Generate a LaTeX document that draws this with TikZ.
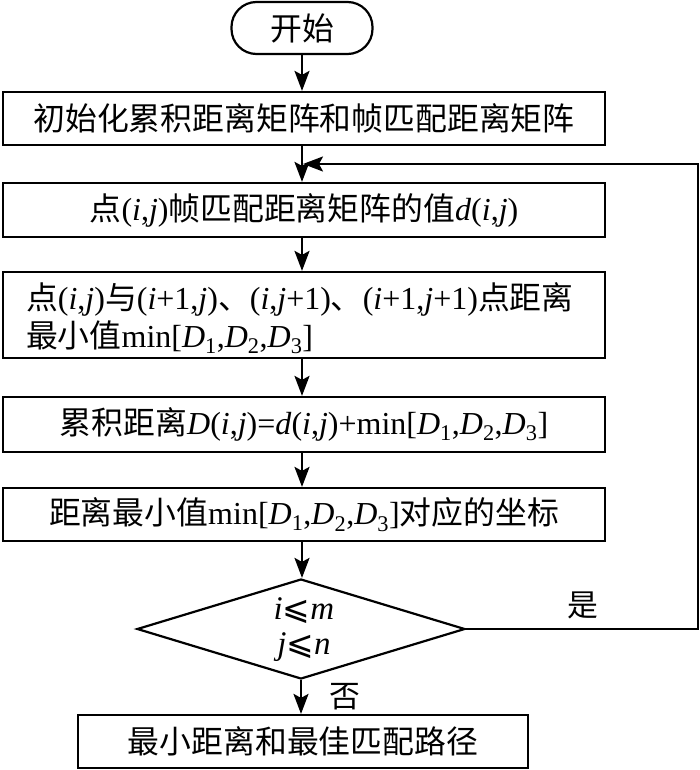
\documentclass[tikz,border=0pt]{standalone}
\usepackage{fontspec}
\setmainfont{Liberation Serif}
\newfontfamily\zhfont{Noto Sans CJK SC}[Scale=0.995]
\newfontfamily\symfont{DejaVu Sans}
\newcommand\zh[1]{{\zhfont #1}}
\newcommand\iv[1]{\textit{#1}}
\newcommand\leqs{{\symfont ⩽}}
\usetikzlibrary{arrows.meta,shapes.geometric}
\begin{document}
\begin{tikzpicture}[x=1pt,y=-1pt,
  line width=2.2pt,
  every node/.style={font=\fontsize{32}{38}\selectfont, inner sep=0pt},
  procbox/.style={draw, rectangle, minimum width=602pt, minimum height=53pt},
  arr/.style={-{Stealth[length=20pt,width=15pt,inset=4pt]}},
  lbl/.style={font=\fontsize{31}{34}\selectfont}]
\useasboundingbox (0,0) rectangle (700,770);
\node[draw, rectangle, rounded corners=25pt, minimum width=141pt, minimum height=52pt] (start) at (302,28) {\zh{开始}};
\node[procbox] (b1) at (304,118.5) {\zh{初始化累积距离矩阵和帧匹配距离矩阵}};
\node[procbox, minimum height=54pt] (b2) at (304,210) {\zh{点}(\iv{i},\iv{j})\zh{帧匹配距离矩阵的值}\iv{d}(\iv{i},\iv{j})};
\node[procbox, minimum height=86pt] (b3) at (304,315) {};
\node[text width=600pt, align=left, anchor=west] (t3) at (25,318) {\zh{点}(\iv{i},\iv{j})\zh{与}(\iv{i}+1,\iv{j})\zh{、}(\iv{i},\iv{j}+1)\zh{、}(\iv{i}+1,\iv{j}+1)\zh{点距离}\\
\zh{最小值}min[\iv{D}\textsubscript{1},\iv{D}\textsubscript{2},\iv{D}\textsubscript{3}]};
\node[procbox, minimum height=55pt] (b4) at (304,424.5) {\zh{累积距离}\iv{D}(\iv{i},\iv{j})=\iv{d}(\iv{i},\iv{j})+min[\iv{D}\textsubscript{1},\iv{D}\textsubscript{2},\iv{D}\textsubscript{3}]};
\node[procbox] (b5) at (304,514.5) {\zh{距离最小值}min[\iv{D}\textsubscript{1},\iv{D}\textsubscript{2},\iv{D}\textsubscript{3}]\zh{对应的坐标}};
\node[draw, diamond, minimum width=328pt, minimum height=100pt] (dec) at (301,629) {};
\node[align=center, font=\fontsize{33}{35}\selectfont] (dect) at (304,630) {\iv{i}\leqs\iv{m}\\\iv{j}\leqs\iv{n}};
\node[draw, rectangle, minimum width=450pt, minimum height=53pt] (end) at (303,741.5) {\zh{最小距离和最佳匹配路径}};
\coordinate (r1) at (698,629);
\coordinate (r2) at (698,164);
\coordinate (j) at (302,164);
\draw[arr] (start) -- (start |- b1.north);
\draw[arr] (b1.south -| start) -- (start |- b2.north);
\draw[arr] (b2.south -| start) -- (start |- b3.north);
\draw[arr] (b3.south -| start) -- (start |- b4.north);
\draw[arr] (b4.south -| start) -- (start |- b5.north);
\draw[arr] (b5.south -| start) -- (start |- dec.north);
\draw[arr] (dec.south) -- (dec.south |- end.north);
\draw[arr] (dec.east) -- (r1) -- (r2) -- ([xshift=1pt]j);
\node[lbl] (yes) at (583,605) {\zh{是}};
\node[lbl] (no) at (345,697) {\zh{否}};
\end{tikzpicture}
\end{document}
